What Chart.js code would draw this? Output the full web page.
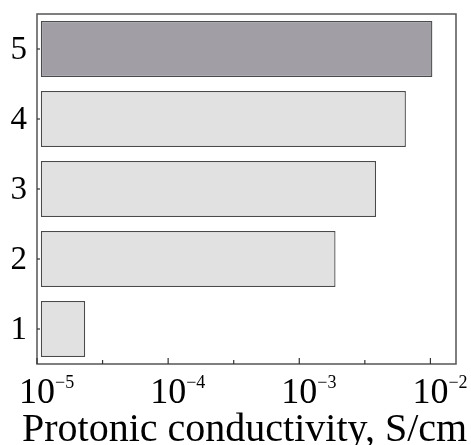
<!DOCTYPE html>
<html>
<head>
<meta charset="utf-8">
<script src="https://cdn.jsdelivr.net/npm/chart.js@4.4.0/dist/chart.umd.min.js"></script>
<style>
  body { margin: 0; background: #fff; }
  canvas { display: block; }
</style>
</head>
<body>
<canvas id="chart1" width="471" height="445"></canvas>
<script>
// data
const categories = ['1', '2', '3', '4', '5'];
const conductivity = [2.33e-5, 1.89e-3, 3.85e-3, 6.5e-3, 1.035e-2];
const barStart = 1.07e-5;
const barColors = ['#e1e1e1', '#e1e1e1', '#e1e1e1', '#e1e1e1', '#a19fa5'];
const majorTicks = [1e-5, 1e-4, 1e-3, 1e-2];
const tickExponents = ['\u22125', '\u22124', '\u22123', '\u22122'];
const minorTicks = [3.162e-5, 3.162e-4, 3.162e-3];
const xTitle = 'Protonic conductivity, S/cm';

const serif = '"Liberation Serif", "Times New Roman", serif';

const framePlugin = {
    id: 'frame',
    afterDraw(chart) {
	const ctx = chart.ctx;
	const a = chart.chartArea;
	const x = chart.scales.x;
	const y = chart.scales.y;
	ctx.save();
	ctx.strokeStyle = '#555';
	ctx.lineWidth = 1.5;
	ctx.strokeRect(a.left, a.top, a.right - a.left, a.bottom - a.top);

	// x ticks point inward
	ctx.lineWidth = 1.2;
	ctx.strokeStyle = '#333';
	majorTicks.forEach(function(v) {
	    const px = x.getPixelForValue(v);
	    ctx.beginPath(); ctx.moveTo(px, a.bottom); ctx.lineTo(px, a.bottom - 6); ctx.stroke();
	});
	minorTicks.forEach(function(v) {
	    const px = x.getPixelForValue(v);
	    ctx.beginPath(); ctx.moveTo(px, a.bottom); ctx.lineTo(px, a.bottom - 4); ctx.stroke();
	});
	categories.forEach(function(c, i) {
	    const py = y.getPixelForValue(i);
	    ctx.beginPath(); ctx.moveTo(a.left, py); ctx.lineTo(a.left + 3, py); ctx.stroke();
	});

	// x tick labels 10^n
	ctx.fillStyle = '#000';
	ctx.textBaseline = 'alphabetic';
	majorTicks.forEach(function(v, i) {
	    const px = x.getPixelForValue(v);
	    ctx.font = '36px ' + serif;
	    ctx.textAlign = 'center';
	    const w = ctx.measureText('10').width;
	    ctx.fillText('10', px, 403);
	    ctx.font = '18px ' + serif;
	    ctx.textAlign = 'left';
	    ctx.fillText(tickExponents[i], px + w / 2, 388);
	});

	// y category labels
	ctx.font = '33px ' + serif;
	ctx.textAlign = 'right';
	ctx.textBaseline = 'middle';
	categories.forEach(function(c, i) {
	    ctx.fillText(c, 27, y.getPixelForValue(i) + 1);
	});

	// x title
	ctx.font = '40px ' + serif;
	ctx.textAlign = 'left';
	ctx.textBaseline = 'alphabetic';
	ctx.fillText(xTitle, 22, 441);
	ctx.restore();
    }
};

new Chart(document.getElementById('chart1'), {
    type: 'bar',
    data: {
	labels: categories,
	datasets: [{
	    data: conductivity.map(function(v) { return [barStart, v]; }),
	    backgroundColor: barColors,
	    borderColor: '#4a4a4a',
	    borderWidth: 1.3,
	    borderSkipped: false,
	    barPercentage: 0.8,
	    categoryPercentage: 1.0
	}]
    },
    options: {
	indexAxis: 'y',
	responsive: false,
	animation: false,
	layout: { padding: { left: 37, right: 15, top: 14, bottom: 81 } },
	plugins: { legend: { display: false }, tooltip: { enabled: false } },
	scales: {
	    x: { type: 'logarithmic', min: 1e-5, max: 0.01567, display: false },
	    y: { type: 'category', reverse: true, offset: true, display: false }
	}
    },
    plugins: [framePlugin]
});
</script>
</body>
</html>
